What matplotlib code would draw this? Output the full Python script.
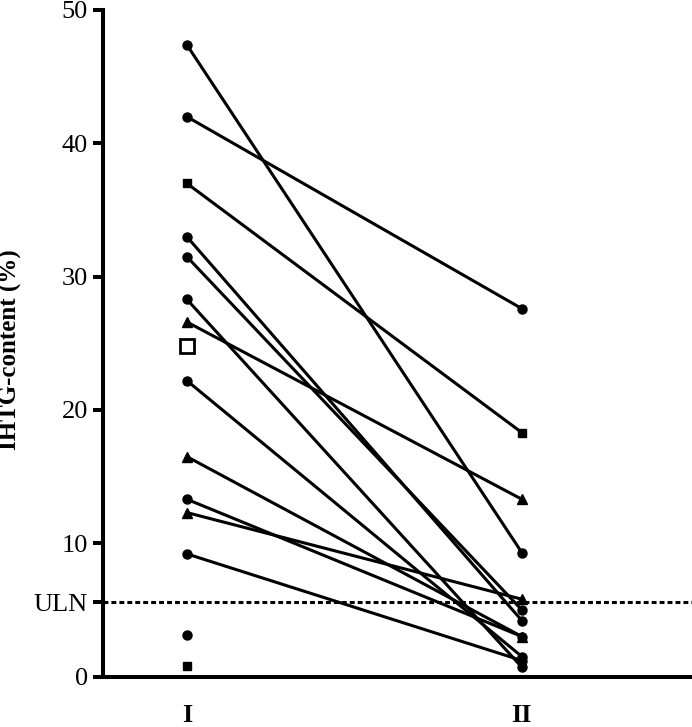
import matplotlib
matplotlib.use("Agg")
import matplotlib.pyplot as plt

# ---- data ----
groups = ["I", "II"]
before = [47.4, 42.0, 37.0, 33.0, 31.5, 28.3, 26.6, 22.2, 16.5, 13.3, 12.3, 9.2]
after = [9.3, 27.6, 18.3, 4.2, 5.0, 0.7, 13.3, 1.5, 3.0, 3.0, 5.8, 1.2]
pair_markers = ["o", "o", "s", "o", "o", "o", "^", "o", "^", "o", "^", "o"]
unpaired_values = [24.8, 3.1, 0.8]
unpaired_markers = ["open_s", "o", "s"]
uln = 5.56
ytick_values = [0, 10, 20, 30, 40, 50]
ylabel = "IHTG-content (%)"

plt.rcParams['font.family'] = ['Liberation Serif', 'DejaVu Serif']

fig = plt.figure(figsize=(6.92, 7.27), dpi=100)
ax = fig.add_axes([103 / 692, 50.5 / 727, 589 / 692, 666.5 / 727])

xpos = [1, 2]
msize = {"o": 6.5, "s": 6.0, "^": 7.5}

for b, a, m in zip(before, after, pair_markers):
    ax.plot(xpos, [b, a], color="black", lw=2.2, marker=m, ms=msize[m],
            mfc="black", mec="black", clip_on=False, zorder=3)

for v, m in zip(unpaired_values, unpaired_markers):
    if m == "open_s":
        ax.plot([xpos[0]], [v], marker="s", ms=10, mfc="white", mec="black",
                mew=2.0, ls="none", zorder=3)
    else:
        ax.plot([xpos[0]], [v], marker=m, ms=msize[m], mfc="black",
                mec="black", ls="none", zorder=3)

ax.axhline(uln, color="black", lw=2.2, ls=(0, (1.6, 1.0)), zorder=2)

ax.set_xlim(0.75, 2.508)
ax.set_ylim(0, 50)

ticks = sorted(ytick_values + [uln])
labels = ["ULN" if t == uln else str(t) for t in ticks]
ax.set_yticks(ticks)
ax.set_yticklabels(labels, fontsize=19)
ax.set_xticks(xpos)
ax.set_xticklabels(groups, fontsize=19, fontweight="bold")

ax.tick_params(axis="y", length=7.2, width=2.9, pad=3.6, direction="out")
ax.tick_params(axis="x", length=0, pad=20)

for s in ["top", "right"]:
    ax.spines[s].set_visible(False)
for s in ["left", "bottom"]:
    ax.spines[s].set_linewidth(2.9)

ax.set_ylabel(ylabel, fontsize=18, fontweight="bold")
ax.yaxis.set_label_coords(-0.137, 0.49)

fig.savefig("out.png", dpi=100)
